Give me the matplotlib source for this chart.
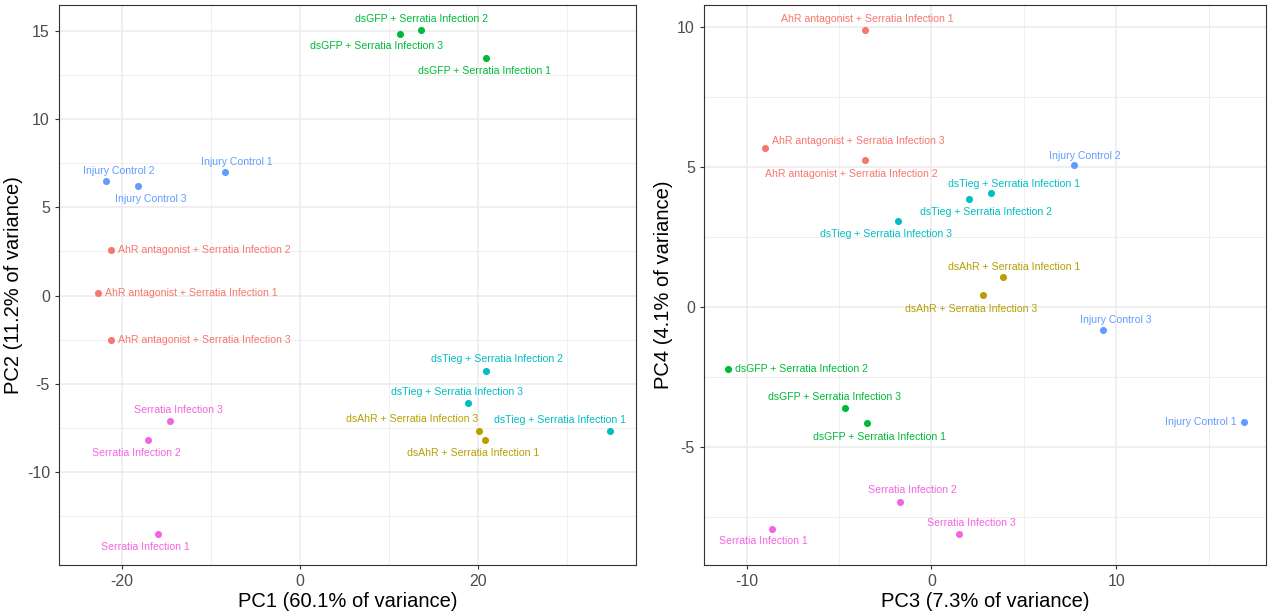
import matplotlib.pyplot as plt
import numpy as np

plt.rcParams["font.family"] = ["Liberation Sans", "DejaVu Sans"]
plt.rcParams["axes.unicode_minus"] = False

# sample names (group + replicate)
samples = [
    "AhR antagonist + Serratia Infection 1",
    "AhR antagonist + Serratia Infection 2",
    "AhR antagonist + Serratia Infection 3",
    "dsAhR + Serratia Infection 1",
    "dsAhR + Serratia Infection 3",
    "dsGFP + Serratia Infection 1",
    "dsGFP + Serratia Infection 2",
    "dsGFP + Serratia Infection 3",
    "dsTieg + Serratia Infection 1",
    "dsTieg + Serratia Infection 2",
    "dsTieg + Serratia Infection 3",
    "Injury Control 1",
    "Injury Control 2",
    "Injury Control 3",
    "Serratia Infection 1",
    "Serratia Infection 2",
    "Serratia Infection 3",
]
groups = [0, 0, 0, 1, 1, 2, 2, 2, 3, 3, 3, 4, 4, 4, 5, 5, 5]

pc1 = [-22.7, -21.2, -21.3, 20.8, 20.1, 20.9, 13.6, 11.2, 34.8, 20.9, 18.9,
       -8.4, -21.8, -18.2, -16.0, -17.1, -14.6]
pc2 = [0.17, 2.56, -2.5, -8.2, -7.7, 13.5, 15.05, 14.85, -7.7, -4.3, -6.1,
       7.0, 6.5, 6.2, -13.5, -8.2, -7.1]
pc3 = [-3.6, -3.6, -9.0, 3.9, 2.8, -3.5, -11.0, -4.65, 3.2, 2.05, -1.8,
       16.9, 7.7, 9.3, -8.6, -1.7, 1.5]
pc4 = [9.9, 5.25, 5.68, 1.1, 0.43, -4.14, -2.2, -3.6, 4.07, 3.86, 3.07,
       -4.1, 5.07, -0.8, -7.9, -6.96, -8.1]

colors = ["#F8766D", "#B79F00", "#00BA38", "#00BFC4", "#619CFF", "#F564E3"]

# label placement (offset in points, horizontal alignment)
offs_left = [
    ((5, 0), "left"), ((5, 0), "left"), ((5, 0), "left"),
    ((-9, -9), "center"), ((-48, 9), "center"),
    ((-1, -9.5), "center"), ((0, 8), "center"), ((-17, -9), "center"),
    ((-36, 8), "center"), ((8, 9), "center"), ((-8, 8), "center"),
    ((8, 7), "center"), ((9, 7), "center"), ((9, -9.5), "center"),
    ((-9, -9.5), "center"), ((-8, -9.5), "center"), ((6, 8), "center"),
]
offs_right = [
    ((2, 8), "center"), ((-10, -9.5), "center"), ((5, 5), "left"),
    ((8, 7), "center"), ((-9, -9.5), "center"),
    ((9, -9.5), "center"), ((5, 0), "left"), ((-8, 8), "center"),
    ((17, 6.5), "center"), ((12, -9), "center"), ((-9, -9), "center"),
    ((-5, 0), "right"), ((8, 7), "center"), ((9, 7), "center"),
    ((-6.5, -9), "center"), ((9, 9), "center"), ((9, 8), "center"),
]


def pca_panel(ax, xs, ys, offs, xlabel, ylabel, xlim, ylim, xmaj, ymaj, xmin, ymin):
    ax.set_xticks(xmaj)
    ax.set_yticks(ymaj)
    ax.set_xticks(xmin, minor=True)
    ax.set_yticks(ymin, minor=True)
    ax.set_xlim(*xlim)
    ax.set_ylim(*ylim)
    ax.grid(which="major", color="#EBEBEB", linewidth=1.1)
    ax.grid(which="minor", color="#EBEBEB", linewidth=0.55)
    ax.set_axisbelow(True)
    for sp in ax.spines.values():
        sp.set_color("#333333")
        sp.set_linewidth(0.8)
    ax.tick_params(which="major", length=3, color="#333333", labelcolor="#4D4D4D",
                   labelsize=11.5)
    ax.tick_params(which="minor", length=0)

    for i, name in enumerate(samples):
        c = colors[groups[i]]
        ax.scatter(xs[i], ys[i], s=26, color=c, zorder=3, linewidths=0)
        (dx, dy), ha = offs[i]
        ax.annotate(name, (xs[i], ys[i]), xytext=(dx, dy), textcoords="offset points",
                    ha=ha, va="center", fontsize=7.6, color=c)

    ax.set_xlabel(xlabel, fontsize=14.5, labelpad=2)
    ax.set_ylabel(ylabel, fontsize=14.5, labelpad=3)


fig = plt.figure(figsize=(12.68, 6.15), dpi=100)
ax1 = fig.add_axes([59 / 1268, 50 / 615, 577 / 1268, 560 / 615])
ax2 = fig.add_axes([704 / 1268, 50 / 615, 562 / 1268, 560 / 615])

pca_panel(ax1, pc1, pc2, offs_left,
          "PC1 (60.1% of variance)", "PC2 (11.2% of variance)",
          (-27.1, 37.75), (-15.28, 16.48),
          [-20, 0, 20], [-10, -5, 0, 5, 10, 15],
          [-30, -10, 10, 30], [-12.5, -7.5, -2.5, 2.5, 7.5, 12.5])

pca_panel(ax2, pc3, pc4, offs_right,
          "PC3 (7.3% of variance)", "PC4 (4.1% of variance)",
          (-12.3, 18.1), (-9.2, 10.8),
          [-10, 0, 10], [-5, 0, 5, 10],
          [-15, -5, 5, 15], [-7.5, -2.5, 2.5, 7.5])

fig.savefig("out.png", dpi=100, facecolor="white")
